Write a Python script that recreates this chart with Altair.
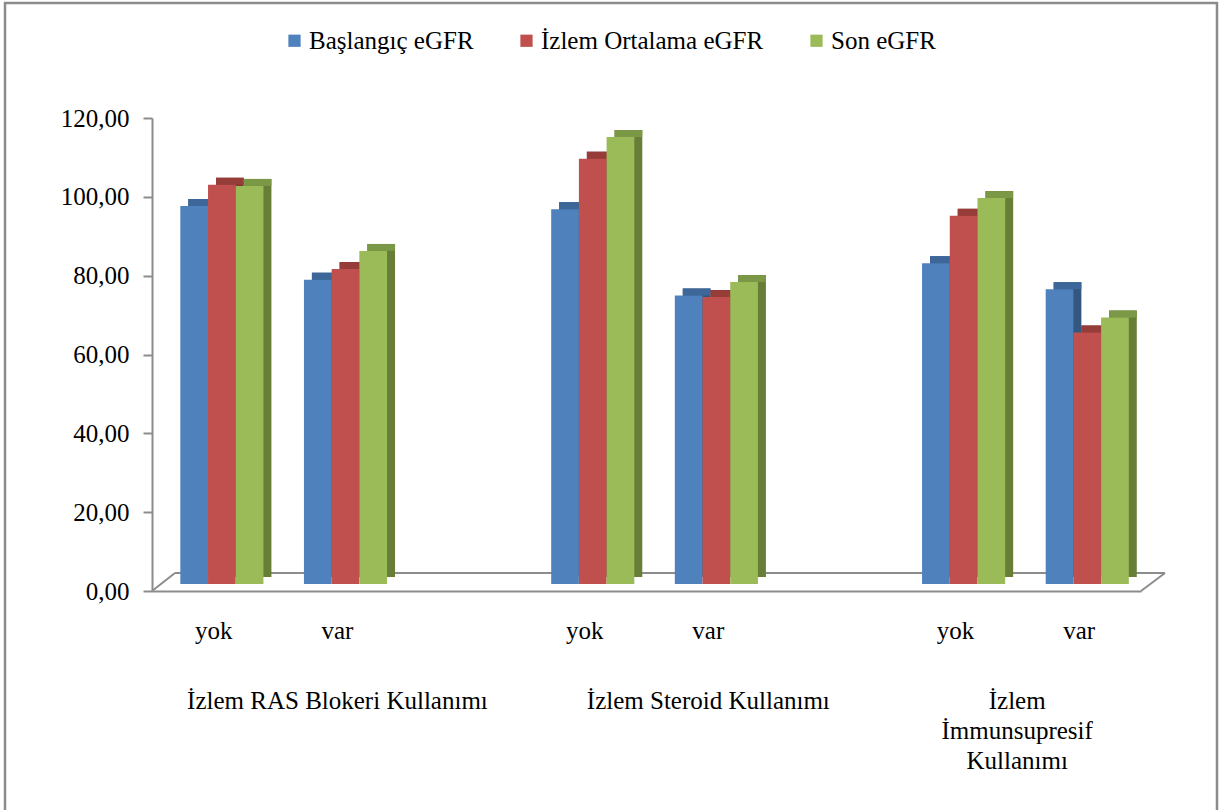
import altair as alt
import pandas as pd

# --- data -------------------------------------------------------------
series = ["Başlangıç eGFR", "İzlem Ortalama eGFR", "Son eGFR"]

# category slots along the x axis ("group|level"; empty level = spacer slot)
slots = ["1|yok", "1|var", "1|", "2|yok", "2|var", "2|", "3|yok", "3|var"]
bar_slots = ["1|yok", "1|var", "2|yok", "2|var", "3|yok", "3|var"]

baslangic = [95.9, 77.2, 95.1, 73.2, 81.4, 74.8]
ortalama = [101.3, 79.9, 107.9, 72.8, 93.4, 63.8]
son = [101.0, 84.5, 113.4, 76.6, 97.9, 67.6]

groups = ["İzlem RAS Blokeri Kullanımı", "İzlem Steroid Kullanımı"]
group_slots = ["1|var", "2|var"]
last_group = ["İzlem\nİmmunsupresif\nKullanımı"]
last_group_slot = ["3|var"]

y_ticks = [0, 20, 40, 60, 80, 100, 120]

# --- styling ----------------------------------------------------------
FONT = "Liberation Serif"
FS = 25
GRAY = "#8c8c8c"
front_colors = ["#4F81BD", "#C0504D", "#9BBB59"]
top_colors = ["#3D6799", "#963C39", "#7A9846"]
side_colors = ["#34577F", "#833330", "#687E37"]

W, H = 989, 473
DY = 7  # vertical depth of each column (oblique 3D look)

rows = []
for name, vals in zip(series, [baslangic, ortalama, son]):
    for slot, v in zip(bar_slots, vals):
        rows.append({"slot": slot, "series": name, "value": v})
df = pd.DataFrame(rows)

x_enc = alt.X(
    "slot:N",
    scale=alt.Scale(domain=slots, paddingInner=0, paddingOuter=0),
    axis=alt.Axis(
        title=None,
        labelExpr="split(datum.value, '|')[1]",
        labelAngle=0,
        ticks=False,
        grid=False,
        domainColor=GRAY,
        domainWidth=2,
        labelFont=FONT,
        labelFontSize=FS,
        labelColor="black",
        labelPadding=27,
    ),
)
y_enc = alt.Y(
    "value:Q",
    scale=alt.Scale(domain=[0, 120], nice=False, zero=True),
    axis=alt.Axis(
        title=None,
        values=y_ticks,
        labelExpr="replace(format(datum.value, '.2f'), '.', ',')",
        grid=False,
        domainColor=GRAY,
        domainWidth=2,
        tickColor=GRAY,
        tickWidth=2,
        tickSize=9,
        labelFont=FONT,
        labelFontSize=FS,
        labelColor="black",
        labelPadding=14,
    ),
)


def offset_scale(align):
    return alt.Scale(domain=series, paddingInner=0, paddingOuter=0.731, align=align)


base = alt.Chart(df)

# right-hand side faces of the columns
side = base.mark_bar(yOffset=-2 * DY, y2Offset=-2 * DY).encode(
    x=x_enc,
    xOffset=alt.XOffset("series:N", scale=offset_scale(0.896)),
    y=y_enc,
    y2=alt.Y2(datum=0),
    color=alt.Color("series:N", scale=alt.Scale(domain=series, range=side_colors), legend=None),
)

# top faces of the columns
top = base.mark_bar(yOffset=-2 * DY, y2Offset=-DY).encode(
    x=x_enc,
    xOffset=alt.XOffset("series:N", scale=offset_scale(0.896)),
    y=y_enc,
    y2=alt.Y2("value:Q"),
    color=alt.Color("series:N", scale=alt.Scale(domain=series, range=top_colors), legend=None),
)

# front faces of the columns (carry the legend)
front = base.mark_bar(yOffset=-DY, y2Offset=-DY).encode(
    x=x_enc,
    xOffset=alt.XOffset("series:N", scale=offset_scale(0.699)),
    y=y_enc,
    y2=alt.Y2(datum=0),
    color=alt.Color(
        "series:N",
        scale=alt.Scale(domain=series, range=front_colors),
        legend=alt.Legend(
            title=None,
            orient="none",
            direction="horizontal",
            legendX=130,
            legendY=-90,
            symbolType="square",
            symbolSize=150,
            symbolStrokeWidth=0,
            labelFont=FONT,
            labelFontSize=FS,
            labelColor="black",
            labelLimit=0,
            labelOffset=2,
            columnPadding=40,
        ),
    ),
)

one = alt.Data(values=[{}])

# floor of the 3D plot: back edge and the two slanted side edges
floor_back = alt.Chart(one).mark_rule(color=GRAY, strokeWidth=2).encode(
    x=alt.value(23), x2=alt.value(W + 24), y=alt.value(H - 18)
)
floor_left = alt.Chart(one).mark_rule(color=GRAY, strokeWidth=2).encode(
    x=alt.value(0), x2=alt.value(23), y=alt.value(H), y2=alt.value(H - 18)
)
floor_right = alt.Chart(one).mark_rule(color=GRAY, strokeWidth=2).encode(
    x=alt.value(W), x2=alt.value(W + 24), y=alt.value(H), y2=alt.value(H - 18)
)

# outer chart border
frame = alt.Chart(one).mark_rect(fill=None, stroke=GRAY, strokeWidth=2.5).encode(
    x=alt.value(-147), x2=alt.value(1065), y=alt.value(-115), y2=alt.value(700)
)

# group captions under the level labels
grp_df = pd.DataFrame({"slot": group_slots, "label": groups})
grp = alt.Chart(grp_df).mark_text(
    font=FONT, fontSize=FS, color="black", baseline="top", align="center", lineBreak="\n"
).encode(x=alt.X("slot:N"), y=alt.value(H + 98), text="label:N")

last_df = pd.DataFrame({"slot": last_group_slot, "label": last_group})
grp_last = alt.Chart(last_df).mark_text(
    font=FONT, fontSize=FS, color="black", baseline="top", align="center",
    lineBreak="\n", lineHeight=30, dx=-62,
).encode(x=alt.X("slot:N"), y=alt.value(H + 98), text="label:N")

chart = (
    alt.layer(frame, floor_back, floor_left, floor_right, side, top, front, grp, grp_last)
    .resolve_scale(color="independent", xOffset="independent")
    .properties(
        width=W,
        height=H,
        autosize=alt.AutoSizeParams(type="none"),
        padding={"left": 152, "top": 118, "right": 88, "bottom": 219},
        background="white",
    )
    .configure_view(stroke=None)
)

chart.save("out.html", embed_options={"renderer": "svg", "actions": False})
